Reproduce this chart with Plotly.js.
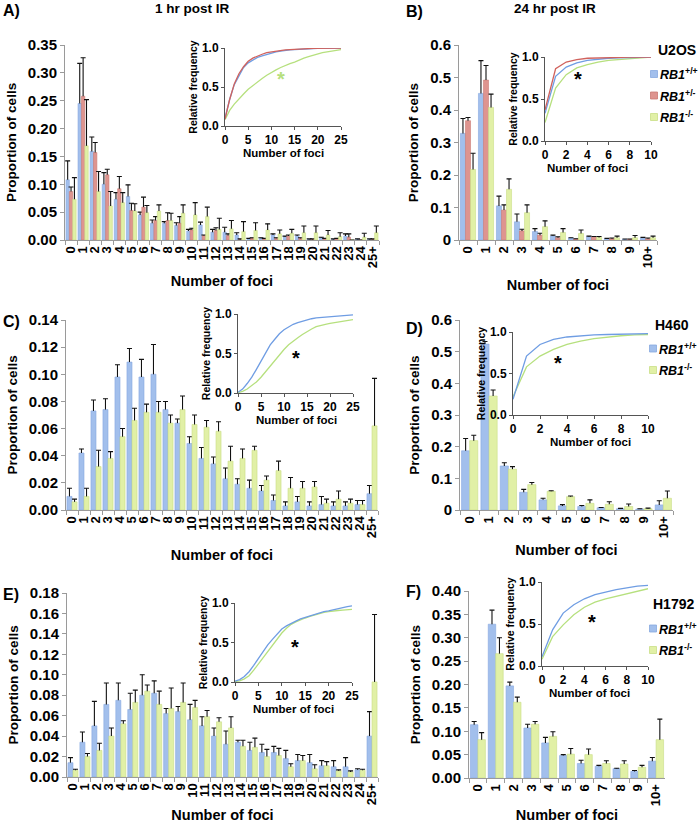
<!DOCTYPE html>
<html>
<head>
<meta charset="utf-8">
<script src="https://cdn.plot.ly/plotly-3.0.1.min.js"></script>
<style>html,body{margin:0;padding:0;background:#fff;}#chart{width:700px;height:823px;}</style>
</head>
<body>
<div id="chart"></div>
<script>
// ---------- categories / tick labels ----------
const catsLong = ['0','1','2','3','4','5','6','7','8','9','10','11','12','13','14','15','16','17','18','19','20','21','22','23','24','25+'];
const catsShort = ['0','1','2','3','4','5','6','7','8','9','10+'];
const fociLong = [0,1,2,3,4,5,6,7,8,9,10,11,12,13,14,15,16,17,18,19,20,21,22,23,24,25];
const fociShort = [0,1,2,3,4,5,6,7,8,9,10];

// ---------- A) U2OS 1 hr ----------
const aBlue  = [0.108,0.245,0.159,0.100,0.073,0.078,0.045,0.030,0.030,0.026,0.016,0.027,0.014,0.014,0.009,0.002,0.003,0.009,0.006,0.007,0.001,0.004,0.001,0.007,0.001,0.001];
const aBlueErr = [0.034,0.072,0.026,0.021,0.012,0.021,0.005,0.006,0.003,0.005,0.003,0.005,0.005,0.009,0.004,0.001,0.001,0.002,0.001,0.002,0.001,0.001,0.001,0.004,0.001,0.001];
const aRed   = [0.087,0.258,0.157,0.117,0.092,0.053,0.059,0.035,0.035,0.030,0.018,0.008,0.017,0.008,0.001,0.003,0.002,0.003,0.007,0.003,0.001,0.002,0.002,0.005,0.000,0.001];
const aRedErr = [0.008,0.069,0.018,0.010,0.022,0.013,0.018,0.007,0.014,0.012,0.003,0.001,0.005,0.003,0.001,0.001,0.001,0.001,0.002,0.001,0.001,0.001,0.001,0.006,0.000,0.001];
const aGreen = [0.073,0.169,0.087,0.061,0.067,0.052,0.049,0.052,0.035,0.048,0.045,0.042,0.019,0.020,0.015,0.017,0.018,0.011,0.012,0.013,0.013,0.009,0.006,0.000,0.005,0.013];
const aGreenErr = [0.039,0.083,0.036,0.026,0.018,0.013,0.013,0.011,0.013,0.015,0.022,0.017,0.020,0.015,0.018,0.014,0.011,0.007,0.007,0.012,0.012,0.008,0.007,0.000,0.007,0.012];
const aCdfBlue  = [0.10,0.34,0.53,0.65,0.75,0.81,0.85,0.88,0.90,0.92,0.94,0.95,0.96,0.97,0.975,0.98,0.985,0.99,0.99,0.992,0.994,0.996,0.997,0.998,0.999,1.0];
const aCdfRed   = [0.09,0.34,0.54,0.67,0.76,0.83,0.87,0.90,0.92,0.94,0.95,0.96,0.97,0.975,0.98,0.985,0.99,0.99,0.992,0.994,0.996,0.997,0.998,0.999,1.0,1.0];
const aCdfGreen = [0.08,0.20,0.28,0.35,0.41,0.47,0.52,0.57,0.61,0.65,0.69,0.72,0.75,0.78,0.80,0.82,0.85,0.87,0.89,0.91,0.93,0.94,0.95,0.96,0.97,0.98];

// ---------- B) U2OS 24 hr ----------
const bBlue  = [0.328,0.451,0.105,0.056,0.026,0.012,0.006,0.010,0.004,0.002,0.006];
const bBlueErr = [0.046,0.101,0.030,0.024,0.009,0.003,0.001,0.002,0.001,0.001,0.002];
const bRed   = [0.367,0.492,0.092,0.028,0.015,0.007,0.003,0.009,0.004,0.002,0.004];
const bRedErr = [0.010,0.045,0.016,0.005,0.006,0.003,0.001,0.002,0.002,0.001,0.002];
const bGreen = [0.217,0.408,0.156,0.084,0.041,0.023,0.020,0.008,0.007,0.007,0.007];
const bGreenErr = [0.050,0.041,0.032,0.024,0.018,0.012,0.011,0.003,0.005,0.007,0.005];
const bCdfBlue  = [0.33,0.77,0.88,0.93,0.96,0.975,0.985,0.99,0.995,0.998,1.0];
const bCdfRed   = [0.37,0.86,0.94,0.97,0.985,0.99,0.995,0.997,0.998,0.999,1.0];
const bCdfGreen = [0.22,0.63,0.79,0.87,0.91,0.94,0.96,0.97,0.98,0.99,1.0];

// ---------- C) H460 1 hr ----------
const cBlue  = [0.010,0.042,0.073,0.074,0.098,0.109,0.098,0.100,0.074,0.064,0.049,0.038,0.034,0.023,0.019,0.016,0.014,0.007,0.003,0.006,0.003,0.004,0.003,0.003,0.004,0.012];
const cBlueErr = [0.006,0.003,0.008,0.008,0.009,0.010,0.013,0.022,0.006,0.003,0.005,0.008,0.005,0.008,0.004,0.006,0.004,0.004,0.003,0.004,0.003,0.006,0.003,0.003,0.003,0.006];
const cGreen = [0.006,0.010,0.032,0.038,0.054,0.066,0.072,0.072,0.064,0.074,0.063,0.061,0.058,0.036,0.038,0.044,0.022,0.029,0.016,0.016,0.017,0.005,0.008,0.005,0.004,0.062];
const cGreenErr = [0.002,0.006,0.012,0.005,0.006,0.009,0.006,0.008,0.006,0.010,0.007,0.005,0.007,0.011,0.007,0.003,0.003,0.007,0.008,0.005,0.004,0.003,0.006,0.003,0.003,0.035];
const cCdfBlue  = [0.01,0.05,0.12,0.20,0.30,0.41,0.51,0.61,0.68,0.75,0.80,0.84,0.87,0.89,0.91,0.93,0.94,0.95,0.955,0.96,0.965,0.97,0.975,0.98,0.985,0.99];
const cCdfGreen = [0.005,0.02,0.05,0.09,0.14,0.20,0.27,0.34,0.41,0.49,0.55,0.61,0.66,0.70,0.74,0.78,0.81,0.84,0.86,0.87,0.88,0.89,0.90,0.91,0.92,0.93];

// ---------- D) H460 24 hr ----------
const dBlue  = [0.187,0.524,0.139,0.056,0.032,0.013,0.011,0.007,0.004,0.003,0.016];
const dBlueErr = [0.039,0.008,0.010,0.009,0.005,0.004,0.003,0.001,0.001,0.001,0.013];
const dGreen = [0.219,0.360,0.129,0.080,0.059,0.042,0.021,0.018,0.011,0.004,0.037];
const dGreenErr = [0.017,0.019,0.008,0.007,0.002,0.002,0.011,0.008,0.008,0.002,0.023];
const dCdfBlue  = [0.19,0.71,0.85,0.91,0.94,0.955,0.965,0.97,0.975,0.98,0.98];
const dCdfGreen = [0.22,0.58,0.71,0.79,0.85,0.89,0.92,0.94,0.955,0.965,0.97];

// ---------- E) H1792 1 hr ----------
const eBlue  = [0.014,0.034,0.050,0.071,0.075,0.066,0.080,0.082,0.062,0.064,0.056,0.050,0.040,0.032,0.034,0.026,0.024,0.024,0.018,0.016,0.014,0.011,0.010,0.010,0.007,0.040];
const eBlueErr = [0.005,0.010,0.024,0.021,0.017,0.016,0.020,0.012,0.005,0.005,0.015,0.009,0.008,0.013,0.002,0.008,0.008,0.006,0.008,0.006,0.008,0.005,0.006,0.009,0.001,0.024];
const eGreen = [0.0066,0.020,0.026,0.040,0.052,0.073,0.084,0.071,0.067,0.073,0.068,0.059,0.054,0.048,0.030,0.029,0.020,0.021,0.010,0.016,0.008,0.011,0.006,0.005,0.0066,0.093];
const eGreenErr = [0.001,0.003,0.007,0.008,0.003,0.012,0.006,0.013,0.020,0.019,0.007,0.006,0.004,0.011,0.006,0.009,0.007,0.007,0.003,0.005,0.004,0.004,0.001,0.001,0.001,0.066];
const eCdfBlue  = [0.01,0.03,0.07,0.13,0.21,0.30,0.39,0.47,0.54,0.61,0.67,0.71,0.745,0.77,0.80,0.82,0.84,0.86,0.875,0.89,0.90,0.915,0.93,0.94,0.955,0.965];
const eCdfGreen = [0.005,0.015,0.04,0.08,0.15,0.23,0.31,0.39,0.47,0.55,0.62,0.68,0.73,0.76,0.79,0.81,0.83,0.85,0.865,0.88,0.89,0.90,0.905,0.91,0.915,0.92];

// ---------- F) H1792 24 hr ----------
const fBlue  = [0.114,0.329,0.197,0.107,0.075,0.048,0.031,0.025,0.020,0.014,0.036];
const fBlueErr = [0.007,0.030,0.008,0.008,0.012,0.002,0.007,0.002,0.001,0.002,0.008];
const fGreen = [0.082,0.266,0.162,0.115,0.089,0.051,0.050,0.031,0.030,0.023,0.082];
const fGreenErr = [0.015,0.034,0.011,0.006,0.010,0.012,0.012,0.006,0.007,0.004,0.044];
const fCdfBlue  = [0.11,0.43,0.63,0.73,0.80,0.85,0.88,0.91,0.93,0.95,0.96];
const fCdfGreen = [0.08,0.35,0.49,0.61,0.70,0.76,0.80,0.83,0.86,0.89,0.92];

// ---------- styling ----------
const W = 700, H = 823;
const FONT = 'Liberation Sans, Arial, Helvetica, sans-serif';
const BAR = {blue:'#a2bfec', red:'#de948f', green:'#e1f0a6'};
const BAREDGE = {blue:'#86a8e0', red:'#c97a74', green:'#c9de86'};
const LINE = {blue:'#6f9de3', red:'#d0625d', green:'#b6e07e'};
const px = v => v / W;
const py = v => 1 - v / H;

const traces = [];
function bars(n, x, vals, errs, col) {
  const ax = n===1?'':n;
  const grp = 'g' + n + col;
  // bar with the error stem (no caps)
  traces.push({
    type:'bar', x:x, y:vals, xaxis:'x'+ax, yaxis:'y'+ax, offsetgroup:grp,
    marker:{color:BAR[col], line:{color:BAREDGE[col], width:0.6}},
    error_y:{type:'data', symmetric:false, array:errs, arrayminus:errs.map(()=>0),
             color:'#111', thickness:1.1, width:0},
    showlegend:false, hoverinfo:'skip'
  });
  // invisible twin whose zero-length error bar draws only the top cap
  traces.push({
    type:'bar', x:x, y:vals.map((v,i)=>v+errs[i]), xaxis:'x'+ax, yaxis:'y'+ax, offsetgroup:grp,
    marker:{color:'rgba(0,0,0,0)', line:{width:0}},
    error_y:{type:'data', array:errs.map(()=>0), color:'#111', thickness:1.1, width:2.5},
    showlegend:false, hoverinfo:'skip'
  });
}
function cdf(n, x, vals, col) {
  traces.push({
    type:'scatter', mode:'lines', x:x, y:vals, xaxis:'x'+n, yaxis:'y'+n,
    line:{color:LINE[col], width:1.3}, showlegend:false, hoverinfo:'skip'
  });
}

bars(1, catsLong, aBlue, aBlueErr, 'blue');
bars(1, catsLong, aRed, aRedErr, 'red');
bars(1, catsLong, aGreen, aGreenErr, 'green');
bars(2, catsShort, bBlue, bBlueErr, 'blue');
bars(2, catsShort, bRed, bRedErr, 'red');
bars(2, catsShort, bGreen, bGreenErr, 'green');
bars(3, catsLong, cBlue, cBlueErr, 'blue');
bars(3, catsLong, cGreen, cGreenErr, 'green');
bars(4, catsShort, dBlue, dBlueErr, 'blue');
bars(4, catsShort, dGreen, dGreenErr, 'green');
bars(5, catsLong, eBlue, eBlueErr, 'blue');
bars(5, catsLong, eGreen, eGreenErr, 'green');
bars(6, catsShort, fBlue, fBlueErr, 'blue');
bars(6, catsShort, fGreen, fGreenErr, 'green');

cdf(7, fociLong, aCdfGreen, 'green');
cdf(7, fociLong, aCdfBlue, 'blue');
cdf(7, fociLong, aCdfRed, 'red');
cdf(8, fociShort, bCdfGreen, 'green');
cdf(8, fociShort, bCdfBlue, 'blue');
cdf(8, fociShort, bCdfRed, 'red');
cdf(9, fociLong, cCdfGreen, 'green');
cdf(9, fociLong, cCdfBlue, 'blue');
cdf(10, fociShort, dCdfGreen, 'green');
cdf(10, fociShort, dCdfBlue, 'blue');
cdf(11, fociLong, eCdfGreen, 'green');
cdf(11, fociLong, eCdfBlue, 'blue');
cdf(12, fociShort, fCdfGreen, 'green');
cdf(12, fociShort, fCdfBlue, 'blue');

const layout = {
  width:W, height:H, margin:{l:0,r:0,t:0,b:0},
  paper_bgcolor:'#fff', plot_bgcolor:'rgba(0,0,0,0)',
  font:{family:FONT, color:'#000'},
  barmode:'group', bargap:0.16, bargroupgap:0,
  showlegend:false, annotations:[], shapes:[]
};

function mainAxes(n, x0, x1, yTop, yBot, nCats, yMax, dtick, fmt, xStand, yStand) {
  const s = n===1?'':n;
  layout['xaxis'+s] = {
    domain:[px(x0), px(x1)], anchor:'y'+s, type:'category', range:[-0.5, nCats-0.5],
    tickmode:'linear', tick0:0, dtick:1,
    showline:true, linecolor:'#9a9a9a', linewidth:1, ticks:'outside', tickson:'boundaries',
    ticklen:4, tickcolor:'#9a9a9a', tickangle:-90, showgrid:false, zeroline:false, automargin:false,
    tickfont:{family:FONT, size:13, weight:'bold', color:'#000'},
    title:{text:'Number of foci', font:{family:FONT, size:14.5, weight:'bold'}, standoff:xStand}
  };
  layout['yaxis'+s] = {
    domain:[py(yBot), py(yTop)], anchor:'x'+s, range:[0, yMax], dtick:dtick, tick0:0, tickformat:fmt,
    showline:true, linecolor:'#9a9a9a', linewidth:1, ticks:'outside', ticklen:4, tickcolor:'#9a9a9a',
    showgrid:false, zeroline:false, automargin:false,
    tickfont:{family:FONT, size:15, weight:'bold', color:'#000'},
    title:{text:'Proportion of cells', font:{family:FONT, size:13.5, weight:'bold'}, standoff:yStand}
  };
}
function insetAxes(n, x0, x1, yTop, yBot, xMax, xDtick) {
  layout['xaxis'+n] = {
    domain:[px(x0), px(x1)], anchor:'y'+n, range:[0, xMax], dtick:xDtick, tick0:0,
    showline:true, linecolor:'#555', linewidth:1, ticks:'outside', ticklen:3, tickcolor:'#555',
    showgrid:false, zeroline:false, automargin:false,
    tickfont:{family:FONT, size:12, weight:'bold'}
  };
  layout['yaxis'+n] = {
    domain:[py(yBot), py(yTop)], anchor:'x'+n, range:[0, 1], dtick:0.5, tick0:0, tickformat:'.1f',
    showline:true, linecolor:'#555', linewidth:1, ticks:'outside', ticklen:3, tickcolor:'#555',
    showgrid:false, zeroline:false, automargin:false,
    tickfont:{family:FONT, size:12, weight:'bold'},
    title:{text:'Relative frequency', font:{family:FONT, size:10.5, weight:'bold'}, standoff:2}
  };
}

mainAxes(1, 65, 379, 45, 240, 26, 0.35, 0.05, '.2f', 8, 8);
mainAxes(2, 459, 657, 45, 240, 11, 0.6, 0.1, '', 12, 8);
mainAxes(3, 66, 378, 320, 510, 26, 0.14, 0.02, '.2f', 12, 8);
mainAxes(4, 460, 673, 320, 510, 11, 0.6, 0.1, '', 7, 8);
mainAxes(5, 67, 378, 593, 777, 26, 0.18, 0.02, '.2f', 8, 8);
mainAxes(6, 469, 665, 591, 778, 11, 0.40, 0.05, '.2f', 4, 8);

insetAxes(7, 225, 341, 48, 126, 25, 5);
insetAxes(8, 545, 651, 57, 141, 10, 2);
insetAxes(9, 238, 353, 314, 393, 25, 5);
insetAxes(10, 513, 648, 332, 415, 10, 2);
insetAxes(11, 235, 352, 603, 682, 25, 5);
insetAxes(12, 542, 648, 582, 666, 10, 2);

function note(text, x, y, size, anchor, color) {
  layout.annotations.push({text:text, xref:'paper', yref:'paper', x:px(x), y:py(y),
    xanchor:anchor||'left', yanchor:'middle', showarrow:false,
    font:{family:FONT, size:size, color:color||'#000'}});
}
// panel letters and titles
note('<b>A)</b>', 1, 10, 16);
note('<b>1 hr post IR</b>', 193, 9, 13.5, 'center');
note('<b>B)</b>', 404, 11, 16);
note('<b>24 hr post IR</b>', 555, 9, 13.5, 'center');
note('<b>C)</b>', 1, 321, 16);
note('<b>D)</b>', 404, 328, 16);
note('<b>E)</b>', 1, 594, 16);
note('<b>F)</b>', 404, 591, 16);

// inset x-axis titles, set just under the tick labels as in the reference
note('<b>Number of foci</b>', 283, 153, 11.5, 'center');
note('<b>Number of foci</b>', 587, 168, 11.5, 'center');
note('<b>Number of foci</b>', 296, 420, 11.5, 'center');
note('<b>Number of foci</b>', 590, 442, 11.5, 'center');
note('<b>Number of foci</b>', 293, 709, 11.5, 'center');
note('<b>Number of foci</b>', 589, 693, 11.5, 'center');

// significance asterisks inside insets
function star(n, x, y, color) {
  layout.annotations.push({text:'<b>*</b>', xref:'x'+n, yref:'y'+n, x:x, y:y,
    showarrow:false, font:{family:FONT, size:20, color:color}, yshift:-4});
}
star(7, 12, 0.66, '#b6e07e');
star(8, 3.1, 0.78, '#000');
star(9, 12.7, 0.5, '#000');
star(10, 3.3, 0.68, '#000');
star(11, 12.8, 0.5, '#000');
star(12, 4.7, 0.57, '#000');

// legends
const labels = {
  wt:'<b><i>RB1</i><sup>+/+</sup></b>',
  het:'<b><i>RB1</i><sup>+/-</sup></b>',
  ko:'<b><i>RB1</i><sup>-/-</sup></b>'
};
function key(cx, cy, col, label) {
  layout.shapes.push({type:'rect', xref:'paper', yref:'paper',
    x0:px(cx-3.5), x1:px(cx+3.5), y0:py(cy+3.5), y1:py(cy-3.5),
    fillcolor:BAR[col], line:{color:BAREDGE[col], width:0.8}});
  note(label, cx+4, cy, 12.5);
}
note('<b>U2OS</b>', 656, 50, 14);
key(654, 74, 'blue', labels.wt);
key(654, 95.5, 'red', labels.het);
key(654, 117, 'green', labels.ko);
note('<b>H460</b>', 653, 325, 14);
key(653, 348.5, 'blue', labels.wt);
key(653, 370, 'green', labels.ko);
note('<b>H1792</b>', 651, 604, 14);
key(653, 628.5, 'blue', labels.wt);
key(653, 650, 'green', labels.ko);

Plotly.newPlot('chart', traces, layout, {staticPlot:true, displayModeBar:false});
</script>
</body>
</html>
